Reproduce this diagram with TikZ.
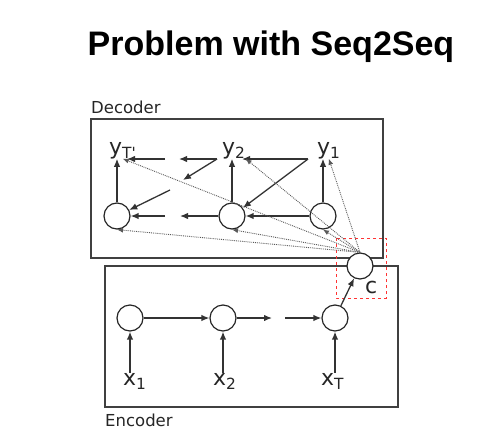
\documentclass[tikz,border=0pt]{standalone}
\usepackage{fontspec}
\setmainfont{Liberation Sans}
\newfontfamily\dejavu{DejaVu Sans}
\usepackage{tikz}
\usetikzlibrary{arrows.meta}

\begin{document}
\begin{tikzpicture}[x=1pt, y=-1pt,
    every node/.style={font=\dejavu\fontsize{22}{24}\selectfont, inner sep=0pt, black!85},
    cell/.style={circle, draw=black!85, line width=1.2pt, minimum size=26pt},
    arr/.style={-{Latex[length=8pt,width=6.5pt]}, line width=1.3pt, black!80},
    att/.style={-{Latex[length=6pt,width=5pt]}, densely dotted, line width=0.9pt, black!65},
    frame/.style={draw=black!75, line width=1.2pt}]
  \useasboundingbox (0,0) rectangle (502,444);
  \node[font=\bfseries\fontsize{34}{36}\selectfont, anchor=base, black] (title) at (271,56) {Problem with Seq2Seq};

  % decoder
  \draw[frame] (91,119) rectangle (383,258);
  \node[font=\dejavu\fontsize{16.5}{18}\selectfont, anchor=base west] (declbl) at (91,113) {Decoder};
  \node[cell] (d3) at (117,216) {};
  \node[cell] (d2) at (232,216) {};
  \node[cell] (d1) at (323,216) {};
  \node[anchor=base west] (yT) at (109,154) {y\textsubscript{T'}};
  \node[anchor=base west] (y2) at (222,154) {y\textsubscript{2}};
  \node[anchor=base west] (y1) at (317,154) {y\textsubscript{1}};
  \coordinate (y1o) at (308,159);
  \coordinate (y2o) at (217,159);
  \coordinate (gT1) at (179,159);
  \coordinate (gT2) at (165,159);
  \coordinate (gD1) at (183,180);
  \coordinate (gD2) at (170,190);
  \coordinate (gB1) at (180,216);
  \coordinate (gB2) at (165,216);
  \draw[arr] (d1) -- (y1.south -| d1);
  \draw[arr] (d2) -- (y2.south -| d2);
  \draw[arr] (d3) -- (yT.south -| d3);
  \draw[arr] (y1o) -- (242,159);
  \draw[arr] (y1o) -- (d2);
  \draw[arr] (d1) -- (d2);
  \draw[arr] (y2o) -- (gT1);
  \draw[arr] (gT2) -- (127,159);
  \draw[arr] (y2o) -- (gD1);
  \draw[arr] (gD2) -- (d3);
  \draw[arr] (d2) -- (gB1);
  \draw[arr] (gB2) -- (d3);

  % encoder
  \draw[frame] (105,266) rectangle (398,407);
  \node[font=\dejavu\fontsize{16.5}{18}\selectfont, anchor=base west] (enclbl) at (105,426) {Encoder};
  \node[cell] (e1) at (130,318) {};
  \node[cell] (e2) at (223,318) {};
  \node[cell] (eT) at (335,318) {};
  \node[anchor=base west] (x1) at (123,385) {x\textsubscript{1}};
  \node[anchor=base west] (x2) at (213,385) {x\textsubscript{2}};
  \node[anchor=base west] (xT) at (321,385) {x\textsubscript{T}};
  \coordinate (gE1) at (272,318);
  \coordinate (gE2) at (285,318);
  \draw[arr] (x1.north -| e1) -- (e1);
  \draw[arr] (x2.north -| e2) -- (e2);
  \draw[arr] (xT.north -| eT) -- (eT);
  \draw[arr] (e1) -- (e2);
  \draw[arr] (e2) -- (gE1);
  \draw[arr] (gE2) -- (eT);

  % context
  \node[cell, fill=white] (c) at (360,266) {};
  \node[anchor=base west] (clbl) at (365,293) {c};
  \draw[red!80, dashed, line width=0.8pt] (336,238) rectangle (386,298);
  \draw[arr] (eT) -- (c);
  \draw[att] (c.north) -- (yT.south);
  \draw[att] (c.north) -- (y2.south east);
  \draw[att] (c.north) -- (y1.south);
  \draw[att] (c.north) -- (d3.south);
  \draw[att] (c.north) -- (d2.south);
  \draw[att] (c.north) -- (d1.south);
\end{tikzpicture}
\end{document}
